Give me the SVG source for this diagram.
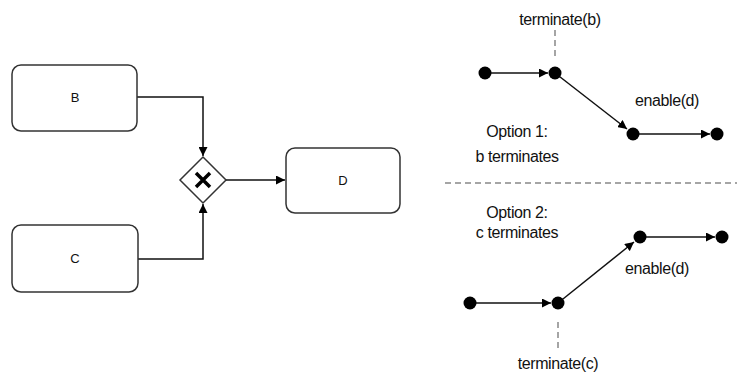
<svg xmlns="http://www.w3.org/2000/svg" width="737" height="375" viewBox="0 0 737 375">
<style>
.box{fill:#fff;stroke:#333;stroke-width:1.5}
.lbl{font-family:"Liberation Sans",Arial,sans-serif;font-size:13px;fill:#111;text-anchor:middle}
.txt{font-family:"Liberation Sans",Arial,sans-serif;font-size:16px;fill:#111;text-anchor:middle;letter-spacing:-0.4px}
.ln{fill:none;stroke:#111;stroke-width:1.5}
.dash{fill:none;stroke:#888;stroke-width:1.5;stroke-dasharray:6,4}
.dot{fill:#000}
</style>
<defs>
<marker id="ah" viewBox="0 0 10 10" refX="10" refY="5" markerWidth="9" markerHeight="9" markerUnits="userSpaceOnUse" orient="auto">
<path d="M0,0 L10,5 L0,10 z" fill="#000"/>
</marker>
</defs>
<g id="connectors">
<path class="ln" d="M137,97 H203 V156" marker-end="url(#ah)"/>
<path class="ln" d="M138,259 H203 V204" marker-end="url(#ah)"/>
<path class="ln" d="M226,180 H285" marker-end="url(#ah)"/>
<path class="ln" d="M485,73 H548" marker-end="url(#ah)"/>
<path class="ln" d="M555,73 L627,129" marker-end="url(#ah)"/>
<path class="ln" d="M633,134 H710" marker-end="url(#ah)"/>
<path class="ln" d="M470,303 H551" marker-end="url(#ah)"/>
<path class="ln" d="M558,303 L634,242" marker-end="url(#ah)"/>
<path class="ln" d="M640,237 H715" marker-end="url(#ah)"/>
</g>
<g id="B"><rect class="box" x="12" y="65" width="125" height="66" rx="9"/><text class="lbl" x="75" y="102">B</text></g>
<g id="C"><rect class="box" x="12" y="225" width="126" height="67" rx="9"/><text class="lbl" x="75" y="263">C</text></g>
<g id="D"><rect class="box" x="286" y="148" width="114" height="65" rx="9"/><text class="lbl" x="343" y="185">D</text></g>
<g id="gateway">
<path d="M203,157 L226,180 L203,203 L180,180 z" fill="#fff" stroke="#333" stroke-width="1.5"/>
<path d="M196,173 L210,187 M210,173 L196,187" stroke="#000" stroke-width="3.5"/>
</g>
<g id="option1">
<text class="txt" x="560" y="25">terminate(b)</text>
<line class="dash" x1="555" y1="30" x2="555" y2="60"/>
<circle class="dot" cx="485" cy="73" r="6.5"/>
<circle class="dot" cx="555" cy="73" r="6.5"/>
<circle class="dot" cx="633" cy="134" r="6.5"/>
<circle class="dot" cx="717" cy="134" r="6.5"/>
<text class="txt" x="667" y="106">enable(d)</text>
<text class="txt" x="517" y="137">Option 1:</text>
<text class="txt" x="517" y="162">b terminates</text>
</g>
<line class="dash" x1="445" y1="183" x2="737" y2="183" stroke="#666"/>
<g id="option2">
<text class="txt" x="517" y="218">Option 2:</text>
<text class="txt" x="517" y="238">c terminates</text>
<circle class="dot" cx="470" cy="303" r="6.5"/>
<circle class="dot" cx="558" cy="303" r="6.5"/>
<circle class="dot" cx="640" cy="237" r="6.5"/>
<circle class="dot" cx="722" cy="237" r="6.5"/>
<text class="txt" x="657" y="274">enable(d)</text>
<line class="dash" x1="558" y1="322" x2="558" y2="350"/>
<text class="txt" x="558" y="369">terminate(c)</text>
</g>
</svg>
